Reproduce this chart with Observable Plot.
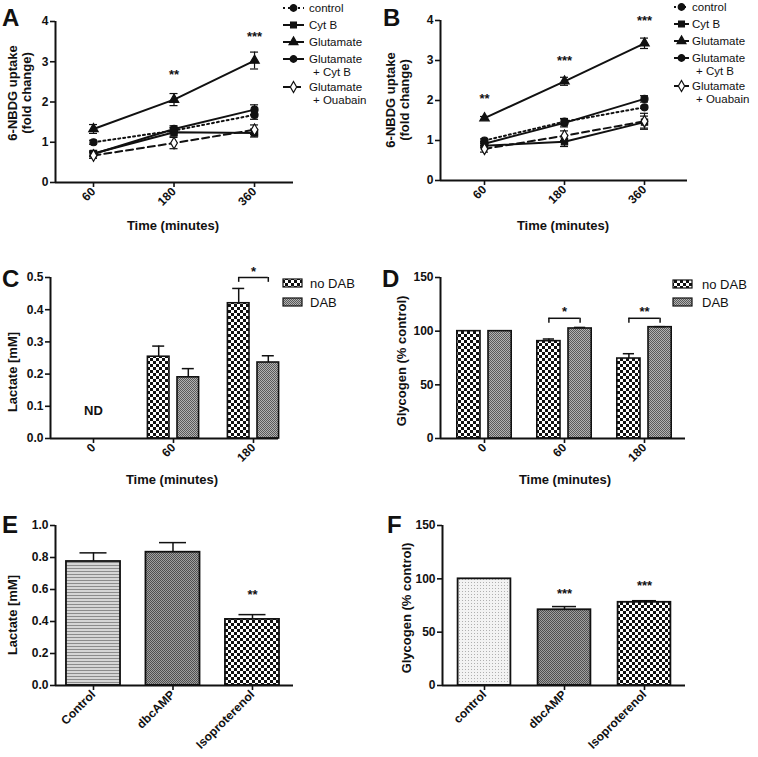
<!DOCTYPE html>
<html><head><meta charset="utf-8">
<script src="https://cdn.jsdelivr.net/npm/d3@7"></script>
<script src="https://cdn.jsdelivr.net/npm/@observablehq/plot@0.6"></script>
<style>
body{margin:0;background:#fff;}
#fig{position:relative;width:758px;height:757px;overflow:hidden;background:#fff;}
#fig svg g[aria-label^="x-axis"] line, #fig svg g[aria-label^="x-axis"] path,
#fig svg g[aria-label^="y-axis"] line, #fig svg g[aria-label^="y-axis"] path {stroke-width:1.6px;stroke:#111;}
</style></head>
<body>
<svg width="0" height="0" style="position:absolute;left:0;top:0">
<defs>
<pattern id="pChecker" width="6" height="6" patternUnits="userSpaceOnUse"><rect width="6" height="6" fill="#fff"/><rect width="3" height="3" fill="#111"/><rect x="3" y="3" width="3" height="3" fill="#111"/></pattern>
<pattern id="pDab" width="2" height="2" patternUnits="userSpaceOnUse"><rect width="2" height="2" fill="#b2b2b2"/><rect width="1" height="1" fill="#5a5a5a"/><rect x="1" y="1" width="1" height="1" fill="#5a5a5a"/></pattern>
<pattern id="pStripe" width="4" height="3" patternUnits="userSpaceOnUse"><rect width="4" height="3" fill="#d6d6d6"/><rect y="2" width="4" height="1" fill="#8c8c8c"/></pattern>
<pattern id="pDbc" width="2" height="2" patternUnits="userSpaceOnUse"><rect width="2" height="2" fill="#a0a0a0"/><rect width="1" height="1" fill="#505050"/><rect x="1" y="1" width="1" height="1" fill="#505050"/></pattern>
<pattern id="pDots" width="3" height="3" patternUnits="userSpaceOnUse"><rect width="3" height="3" fill="#f3f3f3"/><rect x="1" y="1" width="1" height="1" fill="#b0b0b0"/></pattern>
</defs>
</svg>
<div id="fig"></div>
<script>
// ---------------- DATA ----------------
const timeLabelsAB = ["60", "180", "360"];
const seriesNames = ["control", "Cyt B", "Glutamate", "Glutamate\n+ Cyt B", "Glutamate\n+ Ouabain"];

const A_control = [1.00, 1.29, 1.68], A_control_err = [0.05, 0.08, 0.11];
const A_cytB = [0.72, 1.25, 1.23], A_cytB_err = [0.06, 0.10, 0.10];
const A_glu = [1.33, 2.06, 3.03], A_glu_err = [0.11, 0.15, 0.21];
const A_gluCytB = [0.71, 1.33, 1.81], A_gluCytB_err = [0.07, 0.08, 0.12];
const A_gluOua = [0.67, 0.98, 1.31], A_gluOua_err = [0.07, 0.14, 0.12];
const A_sigIdx = [1, 2], A_sigY = [2.78, 3.71], A_sigText = ["**", "***"];

const B_control = [1.00, 1.47, 1.83], B_control_err = [0.04, 0.08, 0.03];
const B_cytB = [0.87, 0.97, 1.46], B_cytB_err = [0.05, 0.12, 0.15];
const B_glu = [1.56, 2.48, 3.43], B_glu_err = [0.04, 0.10, 0.13];
const B_gluCytB = [0.92, 1.44, 2.04], B_gluCytB_err = [0.06, 0.10, 0.08];
const B_gluOua = [0.79, 1.12, 1.48], B_gluOua_err = [0.08, 0.12, 0.20];
const B_sigIdx = [0, 1, 2], B_sigY = [2.15, 3.08, 4.08], B_sigText = ["**", "***", "***"];

const timeLabelsCD = ["0", "60", "180"];
const groupNames = ["no DAB", "DAB"];
const C_noDAB = [null, 0.254, 0.42], C_noDAB_err = [null, 0.033, 0.046];
const C_DAB = [null, 0.19, 0.236], C_DAB_err = [null, 0.027, 0.021];
const C_sigIdx = [2], C_sigY = [0.50], C_sigText = ["*"];
const C_ndIdx = [0], C_ndY = [0.085], C_ndText = ["ND"];

const D_noDAB = [100, 90.7, 74.5], D_noDAB_err = [0, 2.0, 4.5];
const D_DAB = [100, 102.5, 103.7], D_DAB_err = [0, 1.0, 0.5];
const D_sigIdx = [1, 2], D_sigY = [112, 112], D_sigText = ["*", "**"];

const E_labels = ["Control", "dbcAMP", "Isoproterenol"];
const E_values = [0.775, 0.833, 0.413], E_err = [0.054, 0.06, 0.03];
const E_sigIdx = [2], E_sigY = [0.59], E_sigText = ["**"];

const F_labels = ["control", "dbcAMP", "Isoproterenol"];
const F_values = [100, 71, 78], F_err = [0, 3, 1.5];
const F_sigIdx = [1, 2], F_sigY = [90, 96.8], F_sigText = ["***", "***"];

// ---------------- STYLE ----------------
const FONT = '"Liberation Sans", Arial, Helvetica, sans-serif';
const INK = "#111";
const lineDash = ["2,3", null, null, null, "7,4"];
const lineSymbol = ["circle", "square", "triangle", "circle", "diamond"];
const symbolFill = [INK, INK, INK, INK, "#fff"];
const d3Sym = {circle: d3.symbolCircle, square: d3.symbolSquare, triangle: d3.symbolTriangle, diamond: d3.symbolDiamond};
const groupFill = ["url(#pChecker)", "url(#pDab)"];
const E_fill = ["url(#pStripe)", "url(#pDbc)", "url(#pChecker)"];
const F_fill = ["url(#pDots)", "url(#pDbc)", "url(#pChecker)"];
const intFmt = d => String(d);

const fig = document.getElementById("fig");

function makePlot(cfg, marks) {
  const svg = Plot.plot({
    width: cfg.w, height: cfg.h,
    marginLeft: cfg.mL, marginRight: cfg.mR, marginTop: cfg.mT, marginBottom: cfg.mB,
    x: {domain: cfg.xDom, ticks: [0, 1, 2], tickFormat: i => cfg.xLabels[i], tickRotate: -45, tickSize: 5, tickPadding: 2, label: null},
    y: {domain: cfg.yDom, ticks: cfg.yTicks, tickFormat: cfg.yFmt || intFmt, tickSize: 5, tickPadding: 2, label: null},
    style: {position: "absolute", left: cfg.left + "px", top: cfg.top + "px", overflow: "visible",
            background: "transparent", fontFamily: FONT, fontSize: "12px", fontWeight: "bold", color: INK, maxWidth: "none"},
    marks: [
      ...marks,
      Plot.ruleY([cfg.yDom[0]], {stroke: INK, strokeWidth: 2}),
      Plot.ruleX([cfg.xDom[0]], {y1: cfg.yDom[0], y2: cfg.yDom[1], stroke: INK, strokeWidth: 2})
    ]
  });
  fig.appendChild(svg);
  return svg;
}

function txt(svg, x, y, s, o = {}) {
  const t = d3.select(svg).append("text").attr("x", x).attr("y", y).text(s)
    .attr("font-family", FONT).attr("font-size", o.size || 13)
    .attr("font-weight", o.weight || "bold").attr("text-anchor", o.anchor || "start").attr("fill", INK);
  if (o.rotate) t.attr("transform", `rotate(${o.rotate},${x},${y})`);
  return t;
}

function sigRows(idx, ys, texts) { return idx.map((i, k) => ({i, y: ys[k], t: texts[k]})); }

// ---------------- LINE PANELS (A, B) ----------------
function linePanel(cfg, vals, errs, sig, legend) {
  const marks = [];
  vals.forEach((v, k) => {
    const rows = v.map((y, i) => ({i, v: y, e: errs[k][i]}));
    marks.push(
      Plot.line(rows, {x: "i", y: "v", stroke: INK, strokeWidth: 2, strokeDasharray: lineDash[k] || undefined}),
      Plot.ruleX(rows, {x: "i", y1: d => d.v - d.e, y2: d => d.v + d.e, stroke: INK, strokeWidth: 1.2}),
      Plot.ruleY(rows, {y: d => d.v + d.e, x1: d => d.i - 0.05, x2: d => d.i + 0.05, stroke: INK, strokeWidth: 1.2}),
      Plot.ruleY(rows, {y: d => d.v - d.e, x1: d => d.i - 0.05, x2: d => d.i + 0.05, stroke: INK, strokeWidth: 1.2}),
      Plot.dot(rows, {x: "i", y: "v", symbol: lineSymbol[k], r: 3.5, fill: symbolFill[k], stroke: INK, strokeWidth: 1.2})
    );
  });
  marks.push(Plot.text(sig, {x: "i", y: "y", text: "t", fontSize: 13, fontWeight: "bold", fill: INK, dy: 4}));
  const svg = makePlot(cfg, marks);
  // legend
  const g = d3.select(svg).append("g");
  const rowsY = legend.ys;
  seriesNames.forEach((name, k) => {
    const y = rowsY[k];
    g.append("line").attr("x1", legend.x0).attr("x2", legend.x1).attr("y1", y).attr("y2", y)
      .attr("stroke", INK).attr("stroke-width", 2).attr("stroke-dasharray", lineDash[k]);
    g.append("path").attr("d", d3.symbol(d3Sym[lineSymbol[k]], 34)())
      .attr("transform", `translate(${(legend.x0 + legend.x1) / 2},${y})`)
      .attr("fill", symbolFill[k]).attr("stroke", INK).attr("stroke-width", 1.2);
    name.split("\n").forEach((line, j) => {
      txt(svg, legend.tx + (j ? 4 : 0), y + 4 + j * 12.5, line, {size: 11.5, weight: "normal"});
    });
  });
  return svg;
}

const svgA = linePanel(
  {left: 0, top: 0, w: 380, h: 240, mL: 55, mR: 87, mT: 21, mB: 58, xDom: [-0.472, 2.484], xLabels: timeLabelsAB, yDom: [0, 4], yTicks: [0, 1, 2, 3, 4]},
  [A_control, A_cytB, A_glu, A_gluCytB, A_gluOua],
  [A_control_err, A_cytB_err, A_glu_err, A_gluCytB_err, A_gluOua_err],
  sigRows(A_sigIdx, A_sigY, A_sigText),
  {x0: 283, x1: 304, tx: 309, ys: [8, 25, 42, 59, 87]}
);
txt(svgA, 2, 26, "A", {size: 24});
txt(svgA, 17, 93, "6-NBDG uptake", {anchor: "middle", rotate: -90});
txt(svgA, 31, 93, "(fold change)", {anchor: "middle", rotate: -90});
txt(svgA, 173, 230, "Time (minutes)", {anchor: "middle"});

const svgB = linePanel(
  {left: 380, top: 0, w: 378, h: 240, mL: 60, mR: 71, mT: 20, mB: 60, xDom: [-0.55, 2.5375], xLabels: timeLabelsAB, yDom: [0, 4], yTicks: [0, 1, 2, 3, 4]},
  [B_control, B_cytB, B_glu, B_gluCytB, B_gluOua],
  [B_control_err, B_cytB_err, B_glu_err, B_gluCytB_err, B_gluOua_err],
  sigRows(B_sigIdx, B_sigY, B_sigText),
  {x0: 294, x1: 309, tx: 312, ys: [7, 24, 41, 58, 86]}
);
txt(svgB, 3, 26, "B", {size: 24});
txt(svgB, 15, 100, "6-NBDG uptake", {anchor: "middle", rotate: -90});
txt(svgB, 29, 100, "(fold change)", {anchor: "middle", rotate: -90});
txt(svgB, 183, 230, "Time (minutes)", {anchor: "middle"});

// ---------------- GROUPED BAR PANELS (C, D) ----------------
function groupedPanel(cfg, series, errs, sig, off, half, drop, capHalf, extra, legend) {
  const marks = [];
  series.forEach((vals, g) => {
    const o = g === 0 ? -off : off;
    const rows = vals.map((v, i) => ({i, v, e: errs[g][i], c: i + o})).filter(d => d.v != null);
    const er = rows.filter(d => d.e > 0);
    marks.push(
      Plot.rect(rows, {x1: d => d.c - half, x2: d => d.c + half, y1: 0, y2: "v", fill: groupFill[g], stroke: INK, strokeWidth: 1.6}),
      Plot.ruleX(er, {x: "c", y1: "v", y2: d => d.v + d.e, stroke: INK, strokeWidth: 1.5}),
      Plot.ruleY(er, {y: d => d.v + d.e, x1: d => d.c - capHalf, x2: d => d.c + capHalf, stroke: INK, strokeWidth: 1.5})
    );
  });
  marks.push(
    Plot.ruleY(sig, {y: "y", x1: d => d.i - off, x2: d => d.i + off, stroke: INK, strokeWidth: 1.5}),
    Plot.ruleX(sig, {x: d => d.i - off, y1: d => d.y - drop, y2: "y", stroke: INK, strokeWidth: 1.5}),
    Plot.ruleX(sig, {x: d => d.i + off, y1: d => d.y - drop, y2: "y", stroke: INK, strokeWidth: 1.5}),
    Plot.text(sig, {x: "i", y: "y", text: "t", fontSize: 13, fontWeight: "bold", fill: INK, dy: -6}),
    ...extra
  );
  const svg = makePlot(cfg, marks);
  const g = d3.select(svg).append("g");
  groupNames.forEach((name, k) => {
    const y = legend.ys[k];
    g.append("rect").attr("x", legend.x).attr("y", y - 4).attr("width", 19).attr("height", 8)
      .attr("fill", groupFill[k]).attr("stroke", INK).attr("stroke-width", 1.2);
    txt(svg, legend.tx, y + 4.5, name, {size: 13, weight: "normal"});
  });
  return svg;
}

const svgC = groupedPanel(
  {left: 0, top: 250, w: 380, h: 245, mL: 50, mR: 102, mT: 27, mB: 57, xDom: [-0.5375, 2.3125], xLabels: timeLabelsCD,
   yDom: [0, 0.5], yTicks: [0, 0.1, 0.2, 0.3, 0.4, 0.5], yFmt: d => d.toFixed(1)},
  [C_noDAB, C_DAB], [C_noDAB_err, C_DAB_err], sigRows(C_sigIdx, C_sigY, C_sigText),
  0.185, 0.135, 0.015, 0.075,
  [Plot.text(sigRows(C_ndIdx, C_ndY, C_ndText), {x: "i", y: "y", text: "t", fontSize: 13, fontWeight: "bold", fill: INK})],
  {x: 283, tx: 310, ys: [33, 52]}
);
txt(svgC, 2, 37, "C", {size: 24});
txt(svgC, 17, 122, "Lactate [mM]", {anchor: "middle", rotate: -90});
txt(svgC, 172, 234, "Time (minutes)", {anchor: "middle"});

const svgD = groupedPanel(
  {left: 380, top: 250, w: 378, h: 245, mL: 60, mR: 73, mT: 27, mB: 57, xDom: [-0.55, 2.5125], xLabels: timeLabelsCD,
   yDom: [0, 150], yTicks: [0, 50, 100, 150]},
  [D_noDAB, D_DAB], [D_noDAB_err, D_DAB_err], sigRows(D_sigIdx, D_sigY, D_sigText),
  0.195, 0.145, 4.6, 0.07, [],
  {x: 293, tx: 322, ys: [34, 52]}
);
txt(svgD, 2, 37, "D", {size: 24});
txt(svgD, 26, 111, "Glycogen (% control)", {anchor: "middle", rotate: -90});
txt(svgD, 185, 234, "Time (minutes)", {anchor: "middle"});

// ---------------- SIMPLE BAR PANELS (E, F) ----------------
function barPanel(cfg, vals, errs, fills, sig, half, capHalf) {
  const rows = vals.map((v, i) => ({i, v, e: errs[i]}));
  const marks = rows.map((r, i) =>
    Plot.rect([r], {x1: d => d.i - half, x2: d => d.i + half, y1: 0, y2: "v", fill: fills[i], stroke: INK, strokeWidth: 1.8}));
  const er = rows.filter(d => d.e > 0);
  marks.push(
    Plot.ruleX(er, {x: "i", y1: "v", y2: d => d.v + d.e, stroke: INK, strokeWidth: 1.5}),
    Plot.ruleY(er, {y: d => d.v + d.e, x1: d => d.i - capHalf, x2: d => d.i + capHalf, stroke: INK, strokeWidth: 1.5}),
    Plot.text(sig, {x: "i", y: "y", text: "t", fontSize: 13, fontWeight: "bold", fill: INK, dy: 4})
  );
  return makePlot(cfg, marks);
}

const svgE = barPanel(
  {left: 0, top: 500, w: 380, h: 257, mL: 55, mR: 87, mT: 25, mB: 72, xDom: [-0.478, 2.516], xLabels: E_labels,
   yDom: [0, 1.0], yTicks: [0, 0.2, 0.4, 0.6, 0.8, 1.0], yFmt: d => d.toFixed(1)},
  E_values, E_err, E_fill, sigRows(E_sigIdx, E_sigY, E_sigText), 0.34, 0.17
);
txt(svgE, 2, 33, "E", {size: 24});
txt(svgE, 17, 115, "Lactate [mM]", {anchor: "middle", rotate: -90});

const svgF = barPanel(
  {left: 380, top: 500, w: 378, h: 257, mL: 62, mR: 73, mT: 25, mB: 72, xDom: [-0.525, 2.5125], xLabels: F_labels,
   yDom: [0, 150], yTicks: [0, 50, 100, 150]},
  F_values, F_err, F_fill, sigRows(F_sigIdx, F_sigY, F_sigText), 0.33, 0.15
);
txt(svgF, 7, 33, "F", {size: 24});
txt(svgF, 31, 108, "Glycogen (% control)", {anchor: "middle", rotate: -90});
</script>
</body></html>
